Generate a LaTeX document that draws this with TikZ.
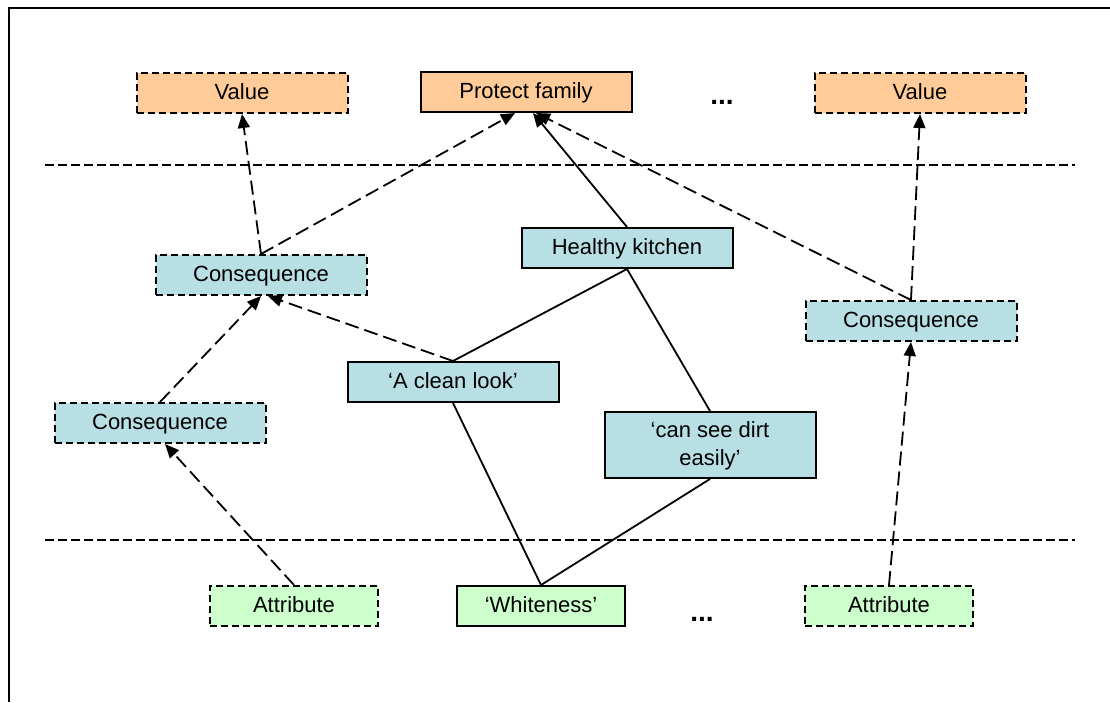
\documentclass[tikz,border=0pt]{standalone}
\usepackage{fontspec}
\setmainfont{Liberation Sans}
\usetikzlibrary{calc,arrows.meta}
\definecolor{valuefill}{HTML}{FFCC99}
\definecolor{conseqfill}{HTML}{B8DFE3}
\definecolor{attrfill}{HTML}{CCFFCC}

\begin{document}
\begin{tikzpicture}[
  x=1pt, y=-1pt,
  font=\fontsize{22}{28}\selectfont,
  >={Triangle[length=14pt,width=12pt]},
  %every node/.style={draw=red},
  ]
  \tikzstyle{box node}=[draw, line width=2pt, minimum width=211pt, minimum height=40pt, inner sep=2pt, align=center, text height=16pt, text depth=4pt]
  \tikzstyle{generic node}=[box node, dash pattern=on 7pt off 4pt]
  \tikzstyle{value node}=[fill=valuefill]
  \tikzstyle{conseq node}=[fill=conseqfill]
  \tikzstyle{attr node}=[fill=attrfill, minimum width=168pt]
  \tikzstyle{link}=[->, line width=1.8pt, dash pattern=on 14pt off 6pt]
  \tikzstyle{tie}=[line width=1.8pt]
  \tikzstyle{layer line}=[line width=1.3pt, dash pattern=on 9pt off 4pt]
  \useasboundingbox (0,0) rectangle (1110,702);
  \draw[line width=2.2pt] (1110,8) -- (9,8) -- (9,702);
  % layers
  \coordinate (l1w) at (45,165);
  \coordinate (l1e) at (1075,165);
  \coordinate (l2w) at (45,540);
  \coordinate (l2e) at (1075,540);
  \draw[layer line] (l1w) -- (l1e);
  \draw[layer line] (l2w) -- (l2e);
  % values
  \node(v1)[generic node, value node] at (242,93) {Value};
  \node(pf)[box node, value node] at (526,92) {Protect family};
  \node(d1)[anchor=base, font=\fontsize{28}{32}\selectfont] at (722,104) {\textbf{...}};
  \node(v2)[generic node, value node] at (920,93) {Value};
  % consequences
  \node(c1)[generic node, conseq node] at (261,275) {Consequence};
  \node(hk)[box node, conseq node] at (627,248) {Healthy kitchen};
  \node(c2)[generic node, conseq node] at (911,321) {Consequence};
  \node(cl)[box node, conseq node] at (453,382) {‘A clean look’};
  \node(c3)[generic node, conseq node] at (160,423) {Consequence};
  \node(dirt)[box node, conseq node, minimum height=66pt, text height=44pt] at (710,445) {‘can see dirt\\easily’};
  % attributes
  \node(a1)[generic node, attr node] at (294,606) {Attribute};
  \node(wh)[box node, attr node] at (541,606) {‘Whiteness’};
  \node(d2)[anchor=base, font=\fontsize{28}{32}\selectfont] at (702,621) {\textbf{...}};
  \node(a2)[generic node, attr node] at (889,606) {Attribute};
  % ladders
  \draw[link] (c1.north) -- (v1.south);
  \draw[link] (c1.north) -- ($(pf.south)+(-11,0)$);
  \draw[->, tie] (hk.north) -- ($(pf.south)+(7,0)$);
  \draw[link] (c2.north) -- ($(pf.south)+(10,0)$);
  \draw[link] (c2.north) -- (v2.south);
  \draw[link] (a2.north) -- (c2.south);
  \draw[link] (a1.north) -- ($(c3.south)+(5,0)$);
  \draw[link] (c3.north) -- (c1.south);
  \draw[link] (cl.north) -- ($(c1.south)+(7,0)$);
  \draw[tie] (cl.north) -- (hk.south);
  \draw[tie] (hk.south) -- (dirt.north);
  \draw[tie] (cl.south) -- (wh.north);
  \draw[tie] (dirt.south) -- (wh.north);
\end{tikzpicture}
\end{document}
